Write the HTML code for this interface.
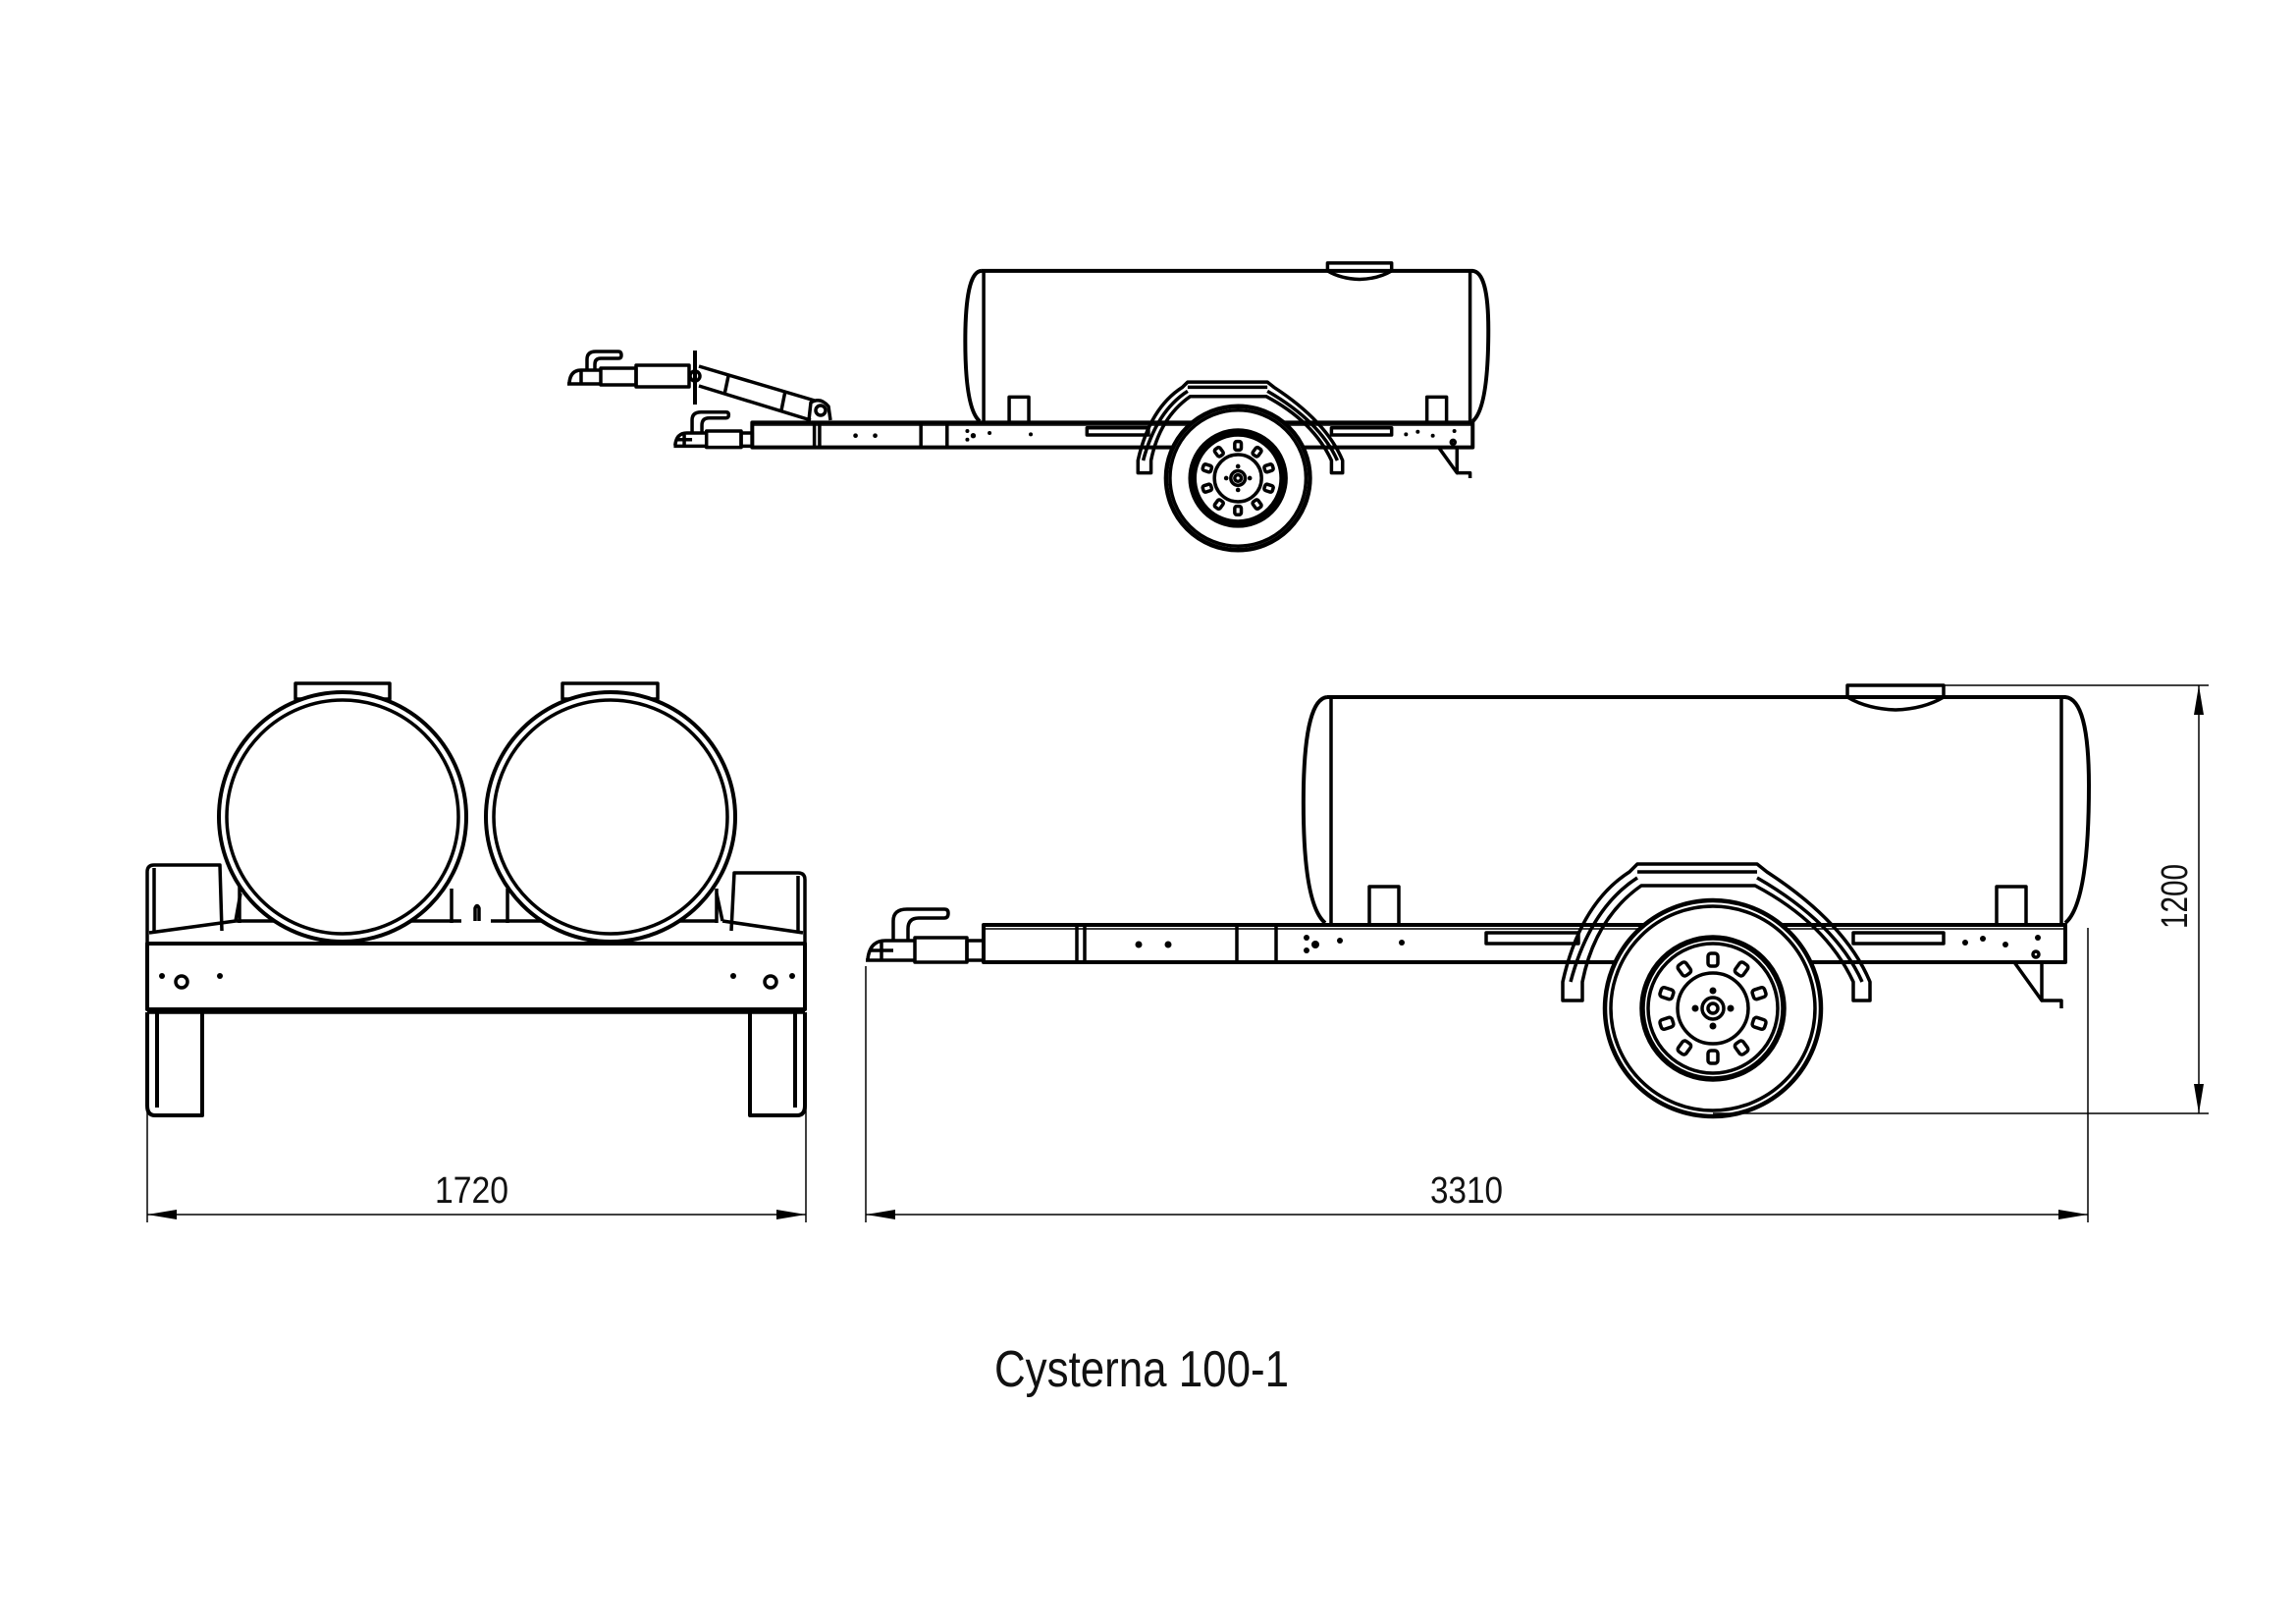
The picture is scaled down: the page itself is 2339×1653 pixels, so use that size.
<!DOCTYPE html>
<html><head><meta charset="utf-8"><style>
html,body{margin:0;padding:0;background:#fff}
svg{display:block}
text{font-family:"Liberation Sans",sans-serif;fill:#111}
</style></head><body>
<svg width="2339" height="1653" viewBox="0 0 2339 1653" xmlns="http://www.w3.org/2000/svg">
<defs>
<g id="side" fill="none" stroke="#000" stroke-width="3.5" stroke-linejoin="round">
  <path d="M1352,710 L2104,710 Q2128,712 2128,800 Q2128,920 2104,940 M1352,710 Q1330,712 1328,800 Q1326,920 1350,940" vector-effect="non-scaling-stroke" stroke-width="4"/>
  <line x1="1356" y1="712" x2="1356" y2="940" vector-effect="non-scaling-stroke"/>
  <line x1="2100" y1="712" x2="2100" y2="940" vector-effect="non-scaling-stroke"/>
  <path d="M1882,698 L1980,698 L1980,710 Q1960,722 1931,723 Q1902,722 1882,710 Z" vector-effect="non-scaling-stroke"/>
  <path d="M1395,940 L1395,903 L1425,903 L1425,940 M2034,940 L2034,903 L2064,903 L2064,940" vector-effect="non-scaling-stroke"/>
  <rect x="1002" y="942" width="1102" height="38" vector-effect="non-scaling-stroke" stroke-width="4"/>
  <line x1="1002" y1="946" x2="2104" y2="946" stroke-width="1.5" vector-effect="non-scaling-stroke"/>
  <path d="M1097,942 L1097,980 M1105,942 L1105,980 M1260,942 L1260,980 M1300,942 L1300,980" vector-effect="non-scaling-stroke"/>
  <rect x="1514" y="950" width="94" height="11" vector-effect="non-scaling-stroke"/>
  <rect x="1888" y="950" width="92" height="11" vector-effect="non-scaling-stroke"/>
  <rect x="932" y="955" width="53" height="25" vector-effect="non-scaling-stroke"/>
  <rect x="985" y="958" width="17" height="20" vector-effect="non-scaling-stroke"/>
  <path d="M882,978 L932,978 M884,977 Q886,958 902,958 L932,958 M898,958 L898,977 M886,968 L910,968" vector-effect="non-scaling-stroke"/>
  <path d="M910,958 L910,938 Q910,926 924,926 L962,926 Q966,926 966,930 Q966,935 962,935 L936,935 Q925,935 925,946 L925,958" vector-effect="non-scaling-stroke"/>
  <path d="M2052,980 L2080,1019 L2080,980 M2080,1019 L2100,1019 L2100,1027" vector-effect="non-scaling-stroke"/>
  <path d="M1592,1019 L1592,1000 Q1610,920 1660,888 L1668,880 L1790,880 L1800,888 Q1880,940 1905,1000 L1905,1019 L1888,1019 L1888,1000 Q1860,940 1788,902 L1672,902 Q1625,935 1612,1000 L1612,1019 Z" vector-effect="non-scaling-stroke"/>
  <path d="M1668,888 L1790,888 M1600,1000 Q1620,925 1668,894 M1790,894 Q1870,940 1897,1000" vector-effect="non-scaling-stroke"/>
  <circle cx="1745" cy="1027" r="110" fill="#fff" stroke-width="4.5" vector-effect="non-scaling-stroke"/>
  <circle cx="1745" cy="1027" r="104" vector-effect="non-scaling-stroke"/>
  <circle cx="1745" cy="1027" r="72" stroke-width="5.5" vector-effect="non-scaling-stroke"/>
  <circle cx="1745" cy="1027" r="66" vector-effect="non-scaling-stroke"/>
  <circle cx="1745" cy="1027" r="36" vector-effect="non-scaling-stroke"/>
  <circle cx="1745" cy="1027" r="11" vector-effect="non-scaling-stroke"/>
  <circle cx="1745" cy="1027" r="5" vector-effect="non-scaling-stroke"/>
  <g fill="#000" stroke="none">
   <circle cx="1745" cy="1009" r="3.5"/><circle cx="1763" cy="1027" r="3.5"/><circle cx="1745" cy="1045" r="3.5"/><circle cx="1727" cy="1027" r="3.5"/>
  </g>
  <g stroke-width="3.5">
   <rect x="1740" y="971" width="10" height="13" rx="3" transform="rotate(0 1745 1027)" vector-effect="non-scaling-stroke"/>
   <rect x="1740" y="971" width="10" height="13" rx="3" transform="rotate(36 1745 1027)" vector-effect="non-scaling-stroke"/>
   <rect x="1740" y="971" width="10" height="13" rx="3" transform="rotate(72 1745 1027)" vector-effect="non-scaling-stroke"/>
   <rect x="1740" y="971" width="10" height="13" rx="3" transform="rotate(108 1745 1027)" vector-effect="non-scaling-stroke"/>
   <rect x="1740" y="971" width="10" height="13" rx="3" transform="rotate(144 1745 1027)" vector-effect="non-scaling-stroke"/>
   <rect x="1740" y="971" width="10" height="13" rx="3" transform="rotate(180 1745 1027)" vector-effect="non-scaling-stroke"/>
   <rect x="1740" y="971" width="10" height="13" rx="3" transform="rotate(216 1745 1027)" vector-effect="non-scaling-stroke"/>
   <rect x="1740" y="971" width="10" height="13" rx="3" transform="rotate(252 1745 1027)" vector-effect="non-scaling-stroke"/>
   <rect x="1740" y="971" width="10" height="13" rx="3" transform="rotate(288 1745 1027)" vector-effect="non-scaling-stroke"/>
   <rect x="1740" y="971" width="10" height="13" rx="3" transform="rotate(324 1745 1027)" vector-effect="non-scaling-stroke"/>
  </g>
  <g fill="#000" stroke="none">
   <circle cx="1160" cy="962" r="3.5"/><circle cx="1190" cy="962" r="3.5"/>
   <circle cx="1331" cy="955" r="3"/><circle cx="1331" cy="968" r="3"/><circle cx="1340" cy="962" r="4"/><circle cx="1365" cy="958" r="3"/><circle cx="1428" cy="960" r="3"/>
   <circle cx="2002" cy="960" r="3"/><circle cx="2020" cy="956" r="3"/><circle cx="2043" cy="962" r="3"/><circle cx="2076" cy="955" r="3"/>
  </g>
  <circle cx="2074" cy="972" r="3" vector-effect="non-scaling-stroke"/>
</g>
</defs>

<use href="#side"/>
<use href="#side" transform="translate(99,-197) scale(0.666)"/>
<g fill="none" stroke="#000" stroke-width="3.5" stroke-linejoin="round">
  <path d="M578,391 L612,391 M580,390 Q581,377 592,377 L612,377 M592,377 L592,390"/>
  <path d="M598,377 L598,366 Q598,358 607,358 L630,358 Q633,358 633,362 Q633,365 630,365 L612,365 Q606,365 606,371 L606,377"/>
  <rect x="612" y="375" width="36" height="17"/>
  <rect x="648" y="372" width="54" height="22"/>
  <line x1="708" y1="357" x2="708" y2="412" stroke-width="4"/>
  <circle cx="708" cy="383" r="5"/>
  <path d="M712,373 L830,408 M712,393 L826,428 M742,383 L738,402 M800,398 L796,418"/>
  <path d="M824,428 L826,410 Q836,404 844,414 L846,428"/>
  <circle cx="836" cy="418" r="5"/>
</g>

<g fill="none" stroke="#000" stroke-width="3.5" stroke-linejoin="round">
  <rect x="301" y="696" width="96" height="16"/>
  <rect x="573" y="696" width="97" height="16"/>
  <path d="M150,961 L150,888 Q150,881 157,881 L224,881 L226,948 M157,884 L157,948"/>
  <path d="M820,961 L820,896 Q820,889 813,889 L748,889 L745,948 M813,892 L813,948"/>
  <path d="M152,950 L240,938 M818,950 L736,938 M240,938 L245,910 M736,938 L730,910 M240,938 L470,938 M500,938 L730,938"/>
  <path d="M244,900 L244,940 M460,905 L460,940 M517,905 L517,940 M730,905 L730,940"/>
  <path d="M484,938 L484,925 Q486,920 488,925 L488,938"/>
  <ellipse cx="349" cy="832" rx="126" ry="127" fill="#fff" stroke-width="4"/>
  <ellipse cx="349" cy="832" rx="118" ry="119"/>
  <ellipse cx="622" cy="832" rx="127" ry="127" fill="#fff" stroke-width="4"/>
  <ellipse cx="622" cy="832" rx="119" ry="119"/>
  <rect x="150" y="961" width="670" height="67" stroke-width="4"/>
  <line x1="150" y1="1031" x2="820" y2="1031"/>
  <circle cx="185" cy="1000" r="6"/>
  <circle cx="785" cy="1000" r="6"/>
  <path d="M150,1031 L150,1126 Q150,1136 158,1136 L206,1136 L206,1031 M160,1031 L160,1128" stroke-width="4"/>
  <path d="M820,1031 L820,1126 Q820,1136 812,1136 L764,1136 L764,1031 M810,1031 L810,1128" stroke-width="4"/>
</g>
<g fill="#000">
  <circle cx="165" cy="994" r="3"/><circle cx="224" cy="994" r="3"/>
  <circle cx="747" cy="994" r="3"/><circle cx="807" cy="994" r="3"/>
</g>

<g stroke="#000" stroke-width="1.5" fill="none">
  <line x1="150" y1="1040" x2="150" y2="1245"/>
  <line x1="821" y1="1040" x2="821" y2="1245"/>
  <line x1="150" y1="1237" x2="821" y2="1237"/>
  <line x1="882" y1="984" x2="882" y2="1245"/>
  <line x1="2127" y1="945" x2="2127" y2="1245"/>
  <line x1="882" y1="1237" x2="2127" y2="1237"/>
  <line x1="1980" y1="698" x2="2250" y2="698"/>
  <line x1="1745" y1="1134" x2="2250" y2="1134"/>
  <line x1="2240" y1="698" x2="2240" y2="1134"/>
</g>
<g fill="#000">
  <path d="M150,1237 L180,1232 L180,1242 Z"/><path d="M821,1237 L791,1232 L791,1242 Z"/>
  <path d="M882,1237 L912,1232 L912,1242 Z"/><path d="M2127,1237 L2097,1232 L2097,1242 Z"/>
  <path d="M2240,698 L2235,728 L2245,728 Z"/><path d="M2240,1134 L2235,1104 L2245,1104 Z"/>
</g>
<text x="443" y="1225" font-size="38" textLength="75" lengthAdjust="spacingAndGlyphs">1720</text>
<text x="1457" y="1225" font-size="38" textLength="74" lengthAdjust="spacingAndGlyphs">3310</text>
<text transform="translate(2228,946) rotate(-90)" font-size="38" textLength="66" lengthAdjust="spacingAndGlyphs">1200</text>
<text x="1013" y="1412" font-size="52" textLength="300" lengthAdjust="spacingAndGlyphs">Cysterna 100-1</text>
</svg>
</body></html>
